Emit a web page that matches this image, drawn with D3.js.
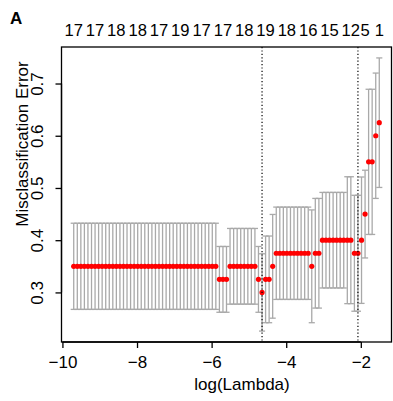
<!DOCTYPE html>
<html>
<head>
<meta charset="utf-8">
<script src="https://cdn.jsdelivr.net/npm/d3@7"></script>
<style>
  body { margin: 0; background: #fff; }
  svg text { font-family: "Liberation Sans", Arial, sans-serif; }
</style>
</head>
<body>
<svg width="393" height="401"></svg>
<script>
"use strict";

// log(lambda) for each fit, largest lambda first (same order as glmnet)
const logLambda = [
  -1.505, -1.600, -1.696, -1.791, -1.886, -1.981, -2.077, -2.172, -2.267, -2.362,
  -2.458, -2.553, -2.648, -2.743, -2.839, -2.934, -3.029, -3.124, -3.220, -3.315,
  -3.410, -3.505, -3.601, -3.696, -3.791, -3.886, -3.982, -4.077, -4.172, -4.267,
  -4.363, -4.458, -4.553, -4.648, -4.744, -4.839, -4.934, -5.029, -5.125, -5.220,
  -5.315, -5.410, -5.506, -5.601, -5.696, -5.791, -5.887, -5.982, -6.077, -6.172,
  -6.268, -6.363, -6.458, -6.553, -6.649, -6.744, -6.839, -6.934, -7.030, -7.125,
  -7.220, -7.315, -7.411, -7.506, -7.601, -7.696, -7.792, -7.887, -7.982, -8.077,
  -8.173, -8.268, -8.363, -8.458, -8.554, -8.649, -8.744, -8.839, -8.935, -9.030,
  -9.125, -9.220, -9.316, -9.411, -9.506, -9.601, -9.697
];

// mean cross-validated misclassification error
const cvm = [
  0.625, 0.600, 0.550, 0.550, 0.450, 0.400, 0.375, 0.375, 0.400, 0.400,
  0.400, 0.400, 0.400, 0.400, 0.400, 0.400, 0.400, 0.375, 0.375, 0.350,
  0.375, 0.375, 0.375, 0.375, 0.375, 0.375, 0.375, 0.375, 0.375, 0.375,
  0.350, 0.325, 0.325, 0.300, 0.325, 0.350, 0.350, 0.350, 0.350, 0.350,
  0.350, 0.350, 0.350, 0.325, 0.325, 0.325, 0.350, 0.350, 0.350, 0.350,
  0.350, 0.350, 0.350, 0.350, 0.350, 0.350, 0.350, 0.350, 0.350, 0.350,
  0.350, 0.350, 0.350, 0.350, 0.350, 0.350, 0.350, 0.350, 0.350, 0.350,
  0.350, 0.350, 0.350, 0.350, 0.350, 0.350, 0.350, 0.350, 0.350, 0.350,
  0.350, 0.350, 0.350, 0.350, 0.350, 0.350, 0.350
];

// standard error of the cv error (half length of each bar)
const cvsd = [
  0.124, 0.120, 0.139, 0.139, 0.084, 0.121, 0.111, 0.111, 0.1215, 0.1215,
  0.0915, 0.0915, 0.0915, 0.0915, 0.0915, 0.0915, 0.0915, 0.105, 0.105, 0.108,
  0.0884, 0.0884, 0.0884, 0.0884, 0.0884, 0.0884, 0.0884, 0.0884, 0.0884, 0.0884,
  0.0993, 0.083, 0.083, 0.074, 0.063, 0.0725, 0.0725, 0.0725, 0.0725, 0.0725,
  0.0725, 0.0725, 0.0725, 0.063, 0.063, 0.063, 0.0825, 0.0825, 0.0825, 0.0825,
  0.0825, 0.0825, 0.0825, 0.0825, 0.0825, 0.0825, 0.0825, 0.0825, 0.0825, 0.0825,
  0.0825, 0.0825, 0.0825, 0.0825, 0.0825, 0.0825, 0.0825, 0.0825, 0.0825, 0.0825,
  0.0825, 0.0825, 0.0825, 0.0825, 0.0825, 0.0825, 0.0825, 0.0825, 0.0825, 0.0825,
  0.0825, 0.0825, 0.0825, 0.0825, 0.0825, 0.0825, 0.0825
];

// number of non-zero coefficients, only the labels that are printed on top
const nzeroIndex = [86, 80, 74, 68, 62, 56, 50, 44, 38, 32, 26, 20, 14, 8, 4, 0];
const nzeroLabels = ["17", "17", "18", "18", "17", "19", "17", "17", "18", "19", "18", "16", "15", "12", "5", "1"];

const minIndex = 33;   // lambda.min
const seIndex = 6;     // lambda.1se

const xTicks = [-10, -8, -6, -4, -2];
const yTicks = [0.3, 0.4, 0.5, 0.6, 0.7];

window.addEventListener("load", draw);

function draw() {
    const svg = d3.select("svg");
    const Box = {LEFT: 61.5, RIGHT: 391.5, TOP: 47, BOTTOM: 342};
    const fontSize = 17;

    const pts = logLambda.map((l, i) => ({l: l, m: cvm[i], sd: cvsd[i]}));

    // R style: 4% padding around the data range
    const xr = d3.extent(logLambda);
    const xpad = (xr[1] - xr[0]) * 0.04;
    const x = d3.scaleLinear()
        .domain([xr[0] - xpad, xr[1] + xpad])
        .range([Box.LEFT, Box.RIGHT]);

    const yr = [d3.min(pts, d => d.m - d.sd), d3.max(pts, d => d.m + d.sd)];
    const ypad = (yr[1] - yr[0]) * 0.04;
    const y = d3.scaleLinear()
        .domain([yr[0] - ypad, yr[1] + ypad])
        .range([Box.BOTTOM, Box.TOP]);

    const barw = (xr[1] - xr[0]) * 0.01;

    // error bars
    const bars = svg.append("g")
        .attr("stroke", "#a9a9a9")
        .attr("stroke-width", 1.3)
        .attr("fill", "none");
    bars.selectAll("line.v").data(pts).enter().append("line")
        .attr("x1", d => x(d.l)).attr("x2", d => x(d.l))
        .attr("y1", d => y(d.m + d.sd)).attr("y2", d => y(d.m - d.sd));
    bars.selectAll("line.top").data(pts).enter().append("line")
        .attr("x1", d => x(d.l - barw)).attr("x2", d => x(d.l + barw))
        .attr("y1", d => y(d.m + d.sd)).attr("y2", d => y(d.m + d.sd));
    bars.selectAll("line.bot").data(pts).enter().append("line")
        .attr("x1", d => x(d.l - barw)).attr("x2", d => x(d.l + barw))
        .attr("y1", d => y(d.m - d.sd)).attr("y2", d => y(d.m - d.sd));

    // points
    svg.append("g").selectAll("circle").data(pts).enter().append("circle")
        .attr("cx", d => x(d.l))
        .attr("cy", d => y(d.m))
        .attr("r", 2.6)
        .attr("fill", "#ff0000");

    // lambda.min and lambda.1se
    svg.append("g").selectAll("line").data([minIndex, seIndex]).enter().append("line")
        .attr("x1", d => x(logLambda[d])).attr("x2", d => x(logLambda[d]))
        .attr("y1", Box.TOP).attr("y2", Box.BOTTOM)
        .attr("stroke", "#000")
        .attr("stroke-width", 1.2)
        .attr("stroke-dasharray", "1.2,2.2");

    // box
    svg.append("rect")
        .attr("x", Box.LEFT).attr("y", Box.TOP)
        .attr("width", Box.RIGHT - Box.LEFT).attr("height", Box.BOTTOM - Box.TOP)
        .attr("fill", "none")
        .attr("stroke", "#000")
        .attr("stroke-width", 1.3);

    // x axis
    const xAxis = svg.append("g")
        .attr("transform", `translate(0, ${Box.BOTTOM})`)
        .call(d3.axisBottom(x).tickValues(xTicks).tickSize(6).tickSizeOuter(0).tickFormat(d3.format("d")));
    xAxis.select(".domain").attr("d", `M${x(xTicks[0])},0H${x(xTicks[xTicks.length - 1])}`).attr("stroke-width", 1.3);
    xAxis.selectAll(".tick line").attr("stroke-width", 1.3);
    xAxis.selectAll(".tick text")
        .attr("y", 26).attr("dy", 0)
        .attr("font-size", fontSize)
        .attr("font-family", "Liberation Sans, Arial, sans-serif")
        .attr("fill", "#000");

    // y axis, labels turned like R's default las = 0
    const yAxis = svg.append("g")
        .attr("transform", `translate(${Box.LEFT}, 0)`)
        .call(d3.axisLeft(y).tickValues(yTicks).tickSize(6).tickSizeOuter(0).tickFormat(d3.format(".1f")));
    yAxis.select(".domain").attr("d", `M0,${y(yTicks[0])}V${y(yTicks[yTicks.length - 1])}`).attr("stroke-width", 1.3);
    yAxis.selectAll(".tick line").attr("stroke-width", 1.3);
    yAxis.selectAll(".tick text")
        .attr("x", 0).attr("dy", 0)
        .attr("transform", "translate(-19, 0) rotate(-90)")
        .attr("text-anchor", "middle")
        .attr("font-size", fontSize)
        .attr("font-family", "Liberation Sans, Arial, sans-serif")
        .attr("fill", "#000");

    // non-zero counts on top
    svg.append("g").selectAll("text").data(nzeroIndex).enter().append("text")
        .attr("x", d => x(logLambda[d]))
        .attr("y", 36)
        .attr("text-anchor", "middle")
        .attr("font-size", 16.6)
        .text((d, i) => nzeroLabels[i]);

    // titles
    svg.append("text")
        .attr("x", 242)
        .attr("y", 390)
        .attr("text-anchor", "middle")
        .attr("font-size", fontSize)
        .text("log(Lambda)");

    svg.append("text")
        .attr("transform", "translate(27.5, 144) rotate(-90)")
        .attr("text-anchor", "middle")
        .attr("font-size", fontSize)
        .text("Misclassification Error");

    svg.append("text")
        .attr("x", 10).attr("y", 24)
        .attr("font-size", fontSize)
        .attr("font-weight", "bold")
        .text("A");
}
</script>
</body>
</html>
